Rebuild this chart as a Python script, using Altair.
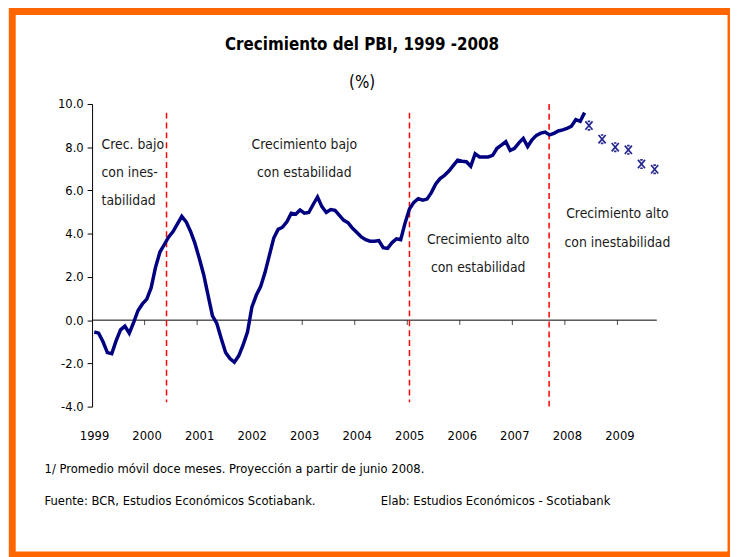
import altair as alt
import pandas as pd

FONT = "Liberation Sans Narrow, Arial Narrow, DejaVu Sans Condensed, sans-serif"

# Monthly 12-month moving average GDP growth (%), Jan 1999 - May 2008
gdp_1999 = [-0.55, -0.6, -1.0, -1.5, -1.55, -0.95, -0.45, -0.28, -0.6, -0.1, 0.45, 0.75]
gdp_2000 = [0.97, 1.5, 2.45, 3.15, 3.5, 3.85, 4.1, 4.45, 4.8, 4.55, 4.1, 3.55]
gdp_2001 = [2.85, 2.1, 1.15, 0.2, -0.15, -0.85, -1.5, -1.78, -1.95, -1.65, -1.15, -0.55]
gdp_2002 = [0.6, 1.15, 1.55, 2.2, 3.0, 3.8, 4.2, 4.3, 4.55, 4.95, 4.9, 5.1]
gdp_2003 = [4.95, 4.98, 5.35, 5.7, 5.25, 4.98, 5.12, 5.08, 4.85, 4.62, 4.5, 4.25]
gdp_2004 = [4.05, 3.85, 3.72, 3.65, 3.65, 3.68, 3.35, 3.32, 3.58, 3.76, 3.72, 4.5]
gdp_2005 = [5.14, 5.45, 5.62, 5.55, 5.6, 5.9, 6.3, 6.55, 6.7, 6.9, 7.15, 7.4]
gdp_2006 = [7.35, 7.33, 7.12, 7.7, 7.55, 7.55, 7.55, 7.62, 7.95, 8.1, 8.26, 7.85]
gdp_2007 = [7.95, 8.2, 8.41, 8.03, 8.34, 8.55, 8.65, 8.7, 8.57, 8.64, 8.75, 8.8]
gdp_2008 = [8.87, 8.97, 9.28, 9.2, 9.6]

# Projection (quarterly points from June 2008)
proj_year = [2008, 2008, 2008, 2009, 2009, 2009]
proj_month = [6, 9, 12, 3, 6, 9]
proj_value = [9.0, 8.37, 8.0, 7.88, 7.22, 6.98]

# Regime separators (dashed lines)
break_x = [2000.417, 2005.042, 2007.70]
break_top = [9.6, 9.6, 10.0]
break_bottom = [-3.8, -3.8, -4.0]

year_ticks = list(range(1999, 2010))
y_ticks = [-4, -2, 0, 2, 4, 6, 8, 10]

# Annotations
ann_left_text = ["Crec. bajo", "con ines-", "tabilidad"]
ann_left_x = [1999.18, 1999.18, 1999.18]
ann_left_y = [8.12, 6.80, 5.52]
ann_c_text = ["Crecimiento bajo", "con estabilidad", "Crecimiento alto", "con estabilidad",
              "Crecimiento alto", "con inestabilidad"]
ann_c_x = [2003.04, 2003.04, 2006.35, 2006.35, 2009.0, 2009.0]
ann_c_y = [8.12, 6.80, 3.69, 2.41, 4.92, 3.59]

title_text = "Crecimiento del PBI, 1999 -2008"
subtitle_text = "(%)"
foot1 = "1/ Promedio móvil doce meses. Proyección a partir de junio 2008."
foot2 = "Fuente: BCR, Estudios Económicos Scotiabank."
foot3 = "Elab: Estudios Económicos - Scotiabank"

# ---- tables ----
series = gdp_1999 + gdp_2000 + gdp_2001 + gdp_2002 + gdp_2003 + gdp_2004 + gdp_2005 + gdp_2006 + gdp_2007 + gdp_2008
line_df = pd.DataFrame({"x": [1999 + (i + 0.5) / 12 for i in range(len(series))], "y": series})
proj_df = pd.DataFrame({"x": [yy + (m - 0.5) / 12 for yy, m in zip(proj_year, proj_month)], "y": proj_value})
break_df = pd.DataFrame({"x": break_x, "y": break_top, "y2": break_bottom})
tick_df = pd.DataFrame({"x": year_ticks[1:], "y": [0] * (len(year_ticks) - 1)})
zero_df = pd.DataFrame({"y": [0]})
annl_df = pd.DataFrame({"x": ann_left_x, "y": ann_left_y, "t": ann_left_text})
annc_df = pd.DataFrame({"x": ann_c_x, "y": ann_c_y, "t": ann_c_text})
one = pd.DataFrame({"a": [0]})

xscale = alt.Scale(domain=[1999, 2009.75], nice=False, zero=False)
yscale = alt.Scale(domain=[-4, 10], nice=False, zero=False)
X = alt.X("x:Q", scale=xscale,
          axis=alt.Axis(values=year_ticks, format="d", grid=False, domain=False, ticks=False,
                        labelPadding=23, labelFlush=False, labelOffset=2, labelFont=FONT,
                        labelFontSize=13, labelColor="#000000", title=None, zindex=1))
Y = alt.Y("y:Q", scale=yscale,
          axis=alt.Axis(values=y_ticks, grid=False, domainColor="#000000",
                        labelExpr="replace(format(datum.value, '.1f'), '\u2212', '-')",
                        tickColor="#000000", tickSize=5, labelPadding=4, labelFont=FONT,
                        labelFontSize=13, labelColor="#000000", title=None, zindex=1))

frame = alt.Chart(one).mark_rect(fill="transparent", stroke="#FF6600", strokeWidth=7).encode(
    x=alt.value(-80.7), x2=alt.value(646), y=alt.value(-93.5), y2=alt.value(456))

zero = alt.Chart(zero_df).mark_rule(color="#000000", strokeWidth=1).encode(y=Y)
ticks = alt.Chart(tick_df).mark_tick(orient="vertical", color="#000000", size=5,
                                     thickness=1, yOffset=2.5).encode(x=X, y=Y)
breaks = alt.Chart(break_df).mark_rule(color="#FF0000", strokeWidth=1.5,
                                       strokeDash=[6, 4]).encode(x=X, y=Y, y2="y2:Q")
line = alt.Chart(line_df).mark_line(color="#000080", strokeWidth=3.5).encode(x=X, y=Y)
proj = alt.Chart(proj_df).mark_point(
    shape="M-0.85,-1L0.85,1M0.85,-1L-0.85,1M-0.3,-1L0.3,-1M-0.3,1L0.3,1",
    size=72, filled=False, strokeWidth=1.7, color="#26268f", opacity=1).encode(x=X, y=Y)

annl = alt.Chart(annl_df).mark_text(align="left", baseline="middle", font=FONT,
                                     fontSize=14, color="#1a1a1a").encode(x=X, y=Y, text="t:N")
annc = alt.Chart(annc_df).mark_text(align="center", baseline="middle", font=FONT,
                                     fontSize=14, color="#1a1a1a").encode(x=X, y=Y, text="t:N")

ttl = alt.Chart(one).mark_text(align="center", baseline="middle", font=FONT, fontSize=17,
                               fontWeight="bold", color="#000000", text=title_text).encode(
    x=alt.value(273), y=alt.value(-60))
sub = alt.Chart(one).mark_text(align="center", baseline="middle", font=FONT, fontSize=17,
                               color="#000000", text=subtitle_text).encode(
    x=alt.value(273), y=alt.value(-21))

f1 = alt.Chart(one).mark_text(align="left", baseline="middle", font=FONT, fontSize=13,
                              color="#000000", text=foot1).encode(x=alt.value(-48), y=alt.value(369))
f2 = alt.Chart(one).mark_text(align="left", baseline="middle", font=FONT, fontSize=13,
                              color="#000000", text=foot2).encode(x=alt.value(-48), y=alt.value(401))
f3 = alt.Chart(one).mark_text(align="left", baseline="middle", font=FONT, fontSize=13,
                              color="#000000", text=foot3).encode(x=alt.value(292), y=alt.value(401))

chart = alt.layer(frame, zero, ticks, breaks, line, proj, annl, annc, ttl, sub, f1, f2, f3).properties(
    width=571, height=306,
    autosize=alt.AutoSizeParams(type="none"),
    padding={"left": 85, "right": 74, "top": 94, "bottom": 149},
    background="#FFFFFF",
).configure_view(stroke="transparent")

chart.save("out.html", embed_options={"renderer": "svg", "actions": False})
